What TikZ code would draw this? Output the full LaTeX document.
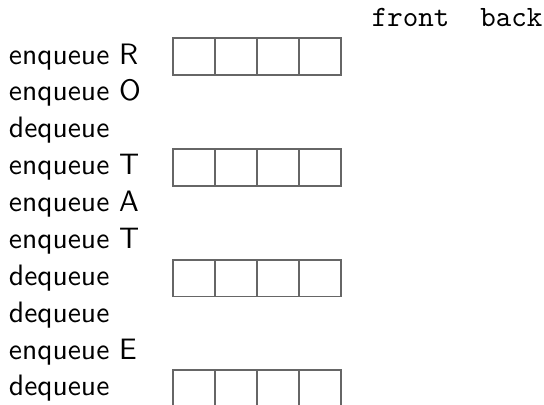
\documentclass[tikz,border=0pt]{standalone}
\usepackage{tikz}
\usetikzlibrary{positioning}

\begin{document}
\begin{tikzpicture}[
  every node/.style={font=\sffamily},
  op/.style={anchor=base west, inner sep=0pt},
  slot/.style={draw=black!60, line width=0.6pt, minimum width=0.5cm,
               minimum height=0.44cm, inner sep=0pt, anchor=north west},
  endlabel/.style={font=\ttfamily, anchor=base west, inner sep=0pt}
]
\useasboundingbox (0,0) rectangle (6.476,-4.810);

\node[endlabel] (front) at (4.42,-0.31) {front};
\node[endlabel] (back) at (5.71,-0.31) {back};

\foreach \i/\t in {0/enqueue R, 1/enqueue O, 2/dequeue, 3/enqueue T,
                   4/enqueue A, 5/enqueue T, 6/dequeue, 7/dequeue,
                   8/enqueue E, 9/dequeue} {
  \node[op] (op\i) at (0.1,{-0.762-0.439*\i}) {\t};
}

% four empty queue arrays, one after every three operations
\foreach \k in {0,...,3} {
  \foreach \c in {0,...,3} {
    \node[slot] (q\k\c) at ({2.051+0.5*\c},{-0.444-1.318*\k}) {};
  }
}
\end{tikzpicture}
\end{document}
